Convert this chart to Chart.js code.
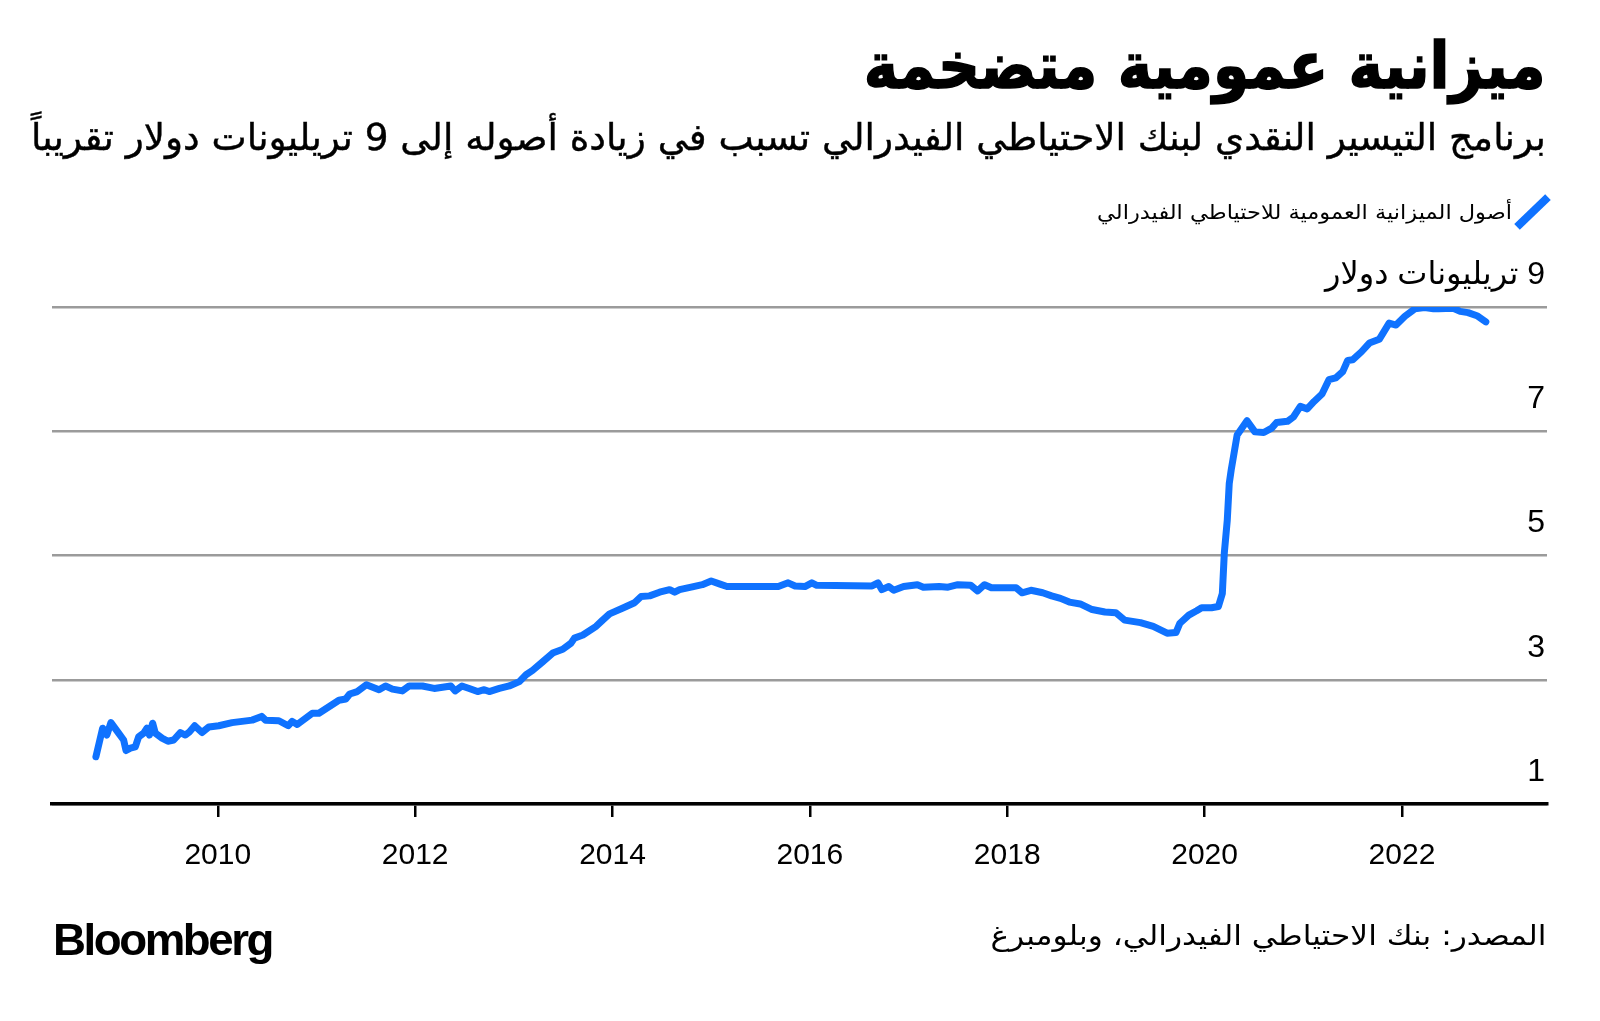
<!DOCTYPE html>
<html lang="ar">
<head>
<meta charset="utf-8">
<script src="https://cdn.jsdelivr.net/npm/chart.js@4"></script>
<style>
  html,body{margin:0;padding:0;background:#fff;}
  body{width:1600px;height:1021px;overflow:hidden;position:relative;}
  .t{position:absolute;white-space:nowrap;display:inline-block;line-height:1.2;color:#000;transform-origin:right center;direction:rtl;}
  #title{font-family:"DejaVu Sans",sans-serif;font-weight:bold;font-size:65px;top:27px;right:54px;-webkit-text-stroke:1.6px #000;}
  #subtitle{font-family:"DejaVu Sans",sans-serif;font-size:37px;top:116px;right:54px;-webkit-text-stroke:0.4px #000;}
  #legendText{font-family:"DejaVu Sans",sans-serif;font-size:20px;top:200px;right:88px;}
  #source{font-family:"DejaVu Sans",sans-serif;font-size:28px;top:919px;right:54px;}
  #logo{position:absolute;left:53px;top:913px;font-family:"Liberation Sans",Arial,sans-serif;font-weight:bold;font-size:45px;letter-spacing:-2.4px;line-height:1.2;white-space:nowrap;transform-origin:left center;}
  #legendIcon{position:absolute;left:1511px;top:208px;width:43px;height:8px;background:#0f72ff;transform:rotate(-44deg);}
  canvas{position:absolute;left:0;top:0;}
</style>
</head>
<body>
<canvas id="c" width="1600" height="1021"></canvas>
<div id="title" class="t" data-w="682">ميزانية عمومية متضخمة</div>
<div id="subtitle" class="t" data-w="1515">برنامج التيسير النقدي لبنك الاحتياطي الفيدرالي تسبب في زيادة أصوله إلى 9 تريليونات دولار تقريباً</div>
<div id="legendIcon"></div>
<div id="legendText" class="t" data-w="415">أصول الميزانية العمومية للاحتياطي الفيدرالي</div>
<div id="source" class="t" data-w="556">المصدر: بنك الاحتياطي الفيدرالي، وبلومبرغ</div>
<div id="logo">Bloomberg</div>
<script>
// ---- Data ----
const years = [
 2008.765,2008.833,2008.876,2008.917,2008.995,2009.046,2009.07,2009.114,2009.164,2009.198,
 2009.249,2009.282,2009.307,2009.34,2009.367,2009.435,2009.495,2009.553,2009.621,2009.672,
 2009.712,2009.766,2009.84,2009.909,2010.01,2010.145,2010.348,2010.444,2010.484,2010.619,
 2010.714,2010.754,2010.805,2010.958,2011.025,2011.228,2011.297,2011.337,2011.414,2011.506,
 2011.634,2011.70,2011.77,2011.87,2011.94,2012.074,2012.193,2012.362,2012.406,2012.474,
 2012.548,2012.633,2012.70,2012.751,2012.853,2012.954,2013.056,2013.124,2013.19,2013.293,
 2013.394,2013.496,2013.58,2013.614,2013.70,2013.834,2013.90,2013.97,2014.10,2014.223,
 2014.29,2014.376,2014.477,2014.579,2014.63,2014.68,2014.82,2014.91,2015.00,2015.09,
 2015.16,2015.68,2015.78,2015.85,2015.95,2016.02,2016.07,2016.63,2016.69,2016.73,
 2016.80,2016.85,2016.95,2017.09,2017.15,2017.31,2017.40,2017.50,2017.63,2017.70,
 2017.77,2017.84,2018.09,2018.15,2018.24,2018.36,2018.45,2018.54,2018.63,2018.74,
 2018.86,2018.99,2019.10,2019.19,2019.35,2019.48,2019.62,2019.71,2019.75,2019.84,
 2019.92,2019.97,2020.07,2020.14,2020.18,2020.20,2020.23,2020.25,2020.27,2020.33,
 2020.43,2020.51,2020.60,2020.68,2020.73,2020.84,2020.90,2020.97,2021.04,2021.11,
 2021.19,2021.26,2021.33,2021.40,2021.45,2021.50,2021.59,2021.67,2021.77,2021.87,
 2021.94,2022.03,2022.13,2022.23,2022.32,2022.37,2022.52,2022.59,2022.67,2022.76,
 2022.85
];
const fedAssets = [
 1.76,2.22,2.11,2.31,2.14,2.03,1.86,1.90,1.92,2.08,
 2.14,2.22,2.11,2.30,2.14,2.06,2.01,2.03,2.15,2.11,
 2.16,2.26,2.15,2.24,2.26,2.31,2.35,2.41,2.35,2.34,
 2.26,2.33,2.28,2.46,2.46,2.67,2.69,2.77,2.81,2.92,
 2.84,2.90,2.85,2.82,2.90,2.90,2.86,2.90,2.82,2.90,
 2.86,2.81,2.84,2.81,2.86,2.90,2.97,3.08,3.15,3.29,
 3.43,3.49,3.59,3.67,3.72,3.86,3.96,4.06,4.15,4.24,
 4.34,4.35,4.41,4.45,4.41,4.45,4.50,4.53,4.59,4.54,
 4.50,4.50,4.56,4.51,4.50,4.56,4.52,4.51,4.56,4.45,
 4.50,4.44,4.50,4.53,4.49,4.50,4.49,4.53,4.52,4.43,
 4.53,4.48,4.48,4.40,4.44,4.40,4.35,4.31,4.25,4.22,
 4.13,4.09,4.08,3.96,3.92,3.86,3.75,3.76,3.91,4.04,
 4.11,4.16,4.16,4.18,4.39,5.04,5.57,6.16,6.38,6.94,
 7.17,6.99,6.98,7.05,7.14,7.16,7.23,7.40,7.36,7.48,
 7.60,7.83,7.86,7.96,8.14,8.15,8.28,8.42,8.48,8.74,
 8.71,8.85,8.97,8.99,8.97,8.97,8.98,8.93,8.91,8.86,
 8.76
];
const xTickYears = [2010, 2012, 2014, 2016, 2018, 2020, 2022];
const yTickValues = [1, 3, 5, 7, 9];
const yTickLabels = ['1', '3', '5', '7', '9 تريليونات دولار'];
const seriesLabel = 'أصول الميزانية العمومية للاحتياطي الفيدرالي';

// ---- Fit HTML text widths ----
document.querySelectorAll('.t[data-w]').forEach(el => {
  const w = el.getBoundingClientRect().width;
  const target = parseFloat(el.dataset.w);
  if (w > 0) el.style.transform = 'scaleX(' + (target / w) + ')';
});
(function(){
  const el = document.getElementById('logo');
  const w = el.getBoundingClientRect().width;
  el.style.transform = 'scaleX(' + (219 / w) + ')';
})();

// ---- Chart ----
const points = years.map((x, i) => ({x: x, y: fedAssets[i]}));

const yLabelPlugin = {
  id: 'yLabels',
  afterDraw(chart) {
    const ctx = chart.ctx;
    const ys = chart.scales.y;
    const right = chart.chartArea.right - 2;
    ctx.save();
    ctx.font = '32px "Liberation Sans", "DejaVu Sans", sans-serif';
    ctx.fillStyle = '#000';
    ctx.textAlign = 'right';
    ctx.textBaseline = 'middle';
    ctx.direction = 'rtl';
    yTickValues.forEach((v, i) => {
      ctx.fillText(yTickLabels[i], right, ys.getPixelForValue(v) - 32);
    });
    ctx.restore();
  }
};

new Chart(document.getElementById('c'), {
  type: 'line',
  data: {
    datasets: [{
      label: seriesLabel,
      data: points,
      borderColor: '#0f72ff',
      borderWidth: 7,
      borderJoinStyle: 'round',
      borderCapStyle: 'round',
      pointRadius: 0,
      tension: 0,
      fill: false
    }]
  },
  options: {
    responsive: false,
    devicePixelRatio: 1,
    animation: false,
    layout: { padding: { left: 52, right: 53, top: 307, bottom: 137 } },
    plugins: { legend: { display: false }, tooltip: { enabled: false }, title: { display: false } },
    scales: {
      x: {
        type: 'linear',
        position: 'bottom',
        min: 2008.32,
        max: 2023.47,
        afterBuildTicks: (scale) => { scale.ticks = xTickYears.map(v => ({value: v})); },
        afterFit: (scale) => { scale.height = 80; },
        grid: { display: true, drawOnChartArea: false, drawTicks: true, tickLength: 13, color: '#000', tickColor: '#000', tickWidth: 2.5, lineWidth: 2.5 },
        border: { display: true, color: '#000', width: 3.5 },
        ticks: {
          autoSkip: false,
          maxRotation: 0,
          padding: 21,
          color: '#000',
          font: { family: '"Liberation Sans", Arial, sans-serif', size: 30 },
          callback: (v) => String(v)
        }
      },
      y: {
        type: 'linear',
        position: 'right',
        min: 1,
        max: 9,
        afterBuildTicks: (scale) => { scale.ticks = yTickValues.map(v => ({value: v})); },
        afterFit: (scale) => { scale.width = 0; },
        grid: { color: '#9b9b9b', lineWidth: 2.5, drawTicks: false },
        border: { display: false },
        ticks: { display: false }
      }
    }
  },
  plugins: [yLabelPlugin]
});
</script>
</body>
</html>
